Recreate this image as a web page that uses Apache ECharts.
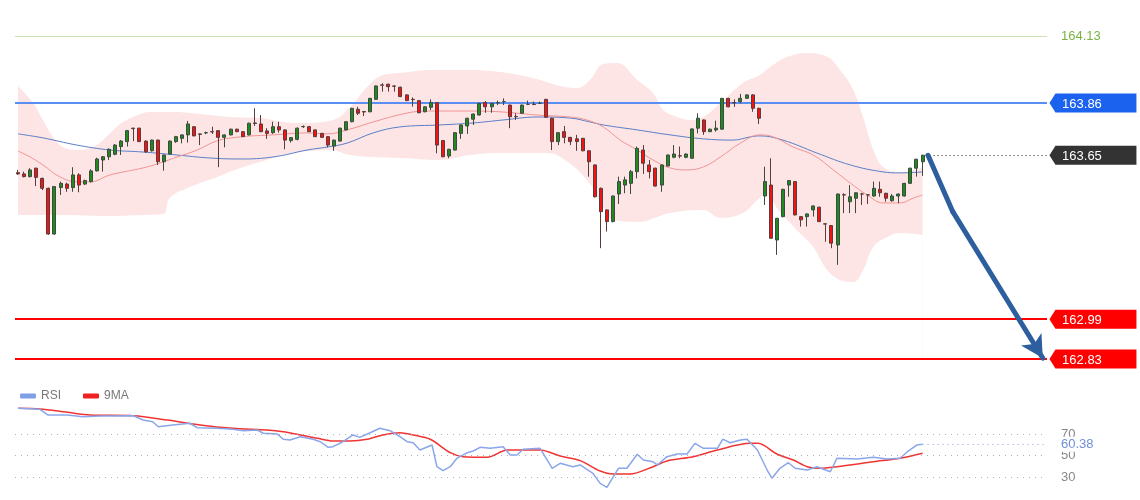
<!DOCTYPE html>
<html>
<head>
<meta charset="utf-8">
<title>Candles</title>
<script src="https://cdn.jsdelivr.net/npm/echarts@6/dist/echarts.min.js"></script>
<style>
  html, body { margin: 0; padding: 0; background: #fff; }
  #main { width: 1140px; height: 500px; }
</style>
</head>
<body>
<div id="main"></div>
<script>
// 蜡烛数据 [open, close, low, high]
var candles = [
  [163.580,163.575,163.571,163.591],[163.575,163.564,163.561,163.584],[163.564,163.591,163.561,163.598],[163.598,163.561,163.526,163.600],
  [163.557,163.517,163.510,163.560],[163.517,163.333,163.330,163.520],[163.333,163.524,163.330,163.526],[163.520,163.537,163.490,163.544],
  [163.534,163.517,163.503,163.540],[163.520,163.571,163.503,163.602],[163.571,163.530,163.501,163.578],[163.534,163.548,163.530,163.552],
  [163.544,163.587,163.540,163.594],[163.587,163.635,163.585,163.640],[163.631,163.644,163.584,163.647],[163.644,163.674,163.631,163.678],
  [163.654,163.691,163.650,163.695],[163.685,163.707,163.651,163.711],[163.705,163.749,163.685,163.752],[163.759,163.757,163.707,163.761],
  [163.759,163.705,163.703,163.761],[163.707,163.664,163.660,163.710],[163.668,163.711,163.665,163.713],[163.711,163.624,163.611,163.713],
  [163.624,163.651,163.588,163.653],[163.655,163.707,163.653,163.710],[163.705,163.725,163.700,163.728],[163.718,163.732,163.698,163.734],
  [163.732,163.776,163.701,163.788],[163.765,163.728,163.726,163.767],[163.736,163.734,163.691,163.738],[163.740,163.741,163.735,163.745],
  [163.745,163.744,163.736,163.765],[163.749,163.722,163.602,163.750],[163.722,163.732,163.682,163.734],[163.732,163.755,163.730,163.757],
  [163.755,163.745,163.743,163.757],[163.745,163.725,163.723,163.747],[163.732,163.779,163.730,163.781],[163.780,163.778,163.768,163.839],
  [163.776,163.745,163.743,163.812],[163.748,163.738,163.716,163.759],[163.741,163.765,163.736,163.785],[163.765,163.752,163.741,163.785],
  [163.752,163.711,163.674,163.754],[163.709,163.721,163.701,163.723],[163.714,163.759,163.710,163.762],[163.765,163.766,163.760,163.770],
  [163.765,163.745,163.743,163.768],[163.752,163.725,163.723,163.754],[163.738,163.722,163.720,163.740],[163.725,163.691,163.682,163.727],
  [163.687,163.711,163.668,163.713],[163.707,163.759,163.705,163.761],[163.752,163.785,163.750,163.787],[163.785,163.839,163.783,163.841],
  [163.835,163.819,163.812,163.845],[163.826,163.824,163.808,163.828],[163.825,163.879,163.823,163.881],[163.875,163.929,163.873,163.931],
  [163.933,163.932,163.906,163.940],[163.936,163.926,163.906,163.938],[163.929,163.928,163.906,163.931],[163.924,163.886,163.884,163.926],
  [163.893,163.870,163.868,163.895],[163.875,163.874,163.846,163.883],[163.870,163.821,163.819,163.872],[163.825,163.845,163.823,163.847],
  [163.843,163.862,163.832,163.875],[163.862,163.691,163.658,163.864],[163.709,163.644,163.642,163.711],[163.647,163.674,163.638,163.676],
  [163.671,163.741,163.669,163.743],[163.738,163.772,163.716,163.774],[163.768,163.799,163.736,163.801],[163.795,163.816,163.772,163.818],
  [163.812,163.859,163.810,163.861],[163.862,163.845,163.821,163.868],[163.845,163.859,163.821,163.861],[163.861,163.862,163.852,163.870],
  [163.866,163.866,163.852,163.879],[163.852,163.805,163.759,163.854],[163.806,163.805,163.792,163.819],[163.819,163.852,163.817,163.854],
  [163.855,163.855,163.852,163.870],[163.855,163.854,163.852,163.866],[163.859,163.859,163.856,163.866],[163.875,163.803,163.800,163.877],
  [163.799,163.705,163.671,163.801],[163.705,163.741,163.691,163.743],[163.745,163.722,163.698,163.768],[163.722,163.705,163.691,163.724],
  [163.716,163.705,163.668,163.732],[163.718,163.668,163.666,163.720],[163.668,163.624,163.564,163.670],[163.611,163.483,163.480,163.613],
  [163.517,163.423,163.276,163.520],[163.430,163.383,163.343,163.432],[163.383,163.486,163.380,163.488],[163.494,163.544,163.454,163.564],
  [163.530,163.551,163.497,163.564],[163.537,163.584,163.494,163.591],[163.584,163.678,163.557,163.685],[163.671,163.618,163.575,163.691],
  [163.611,163.584,163.557,163.631],[163.598,163.526,163.524,163.600],[163.530,163.611,163.503,163.613],[163.607,163.651,163.605,163.653],
  [163.642,163.655,163.638,163.691],[163.648,163.647,163.638,163.685],[163.642,163.655,163.638,163.657],[163.638,163.756,163.636,163.758],
  [163.759,163.799,163.738,163.819],[163.792,163.745,163.732,163.794],[163.745,163.755,163.743,163.757],[163.752,163.759,163.745,163.789],
  [163.755,163.879,163.753,163.881],[163.879,163.845,163.843,163.881],[163.862,163.861,163.845,163.875],[163.866,163.879,163.859,163.897],
  [163.879,163.893,163.877,163.895],[163.893,163.839,163.825,163.895],[163.839,163.799,163.776,163.841],[163.486,163.544,163.450,163.604],
  [163.530,163.316,163.314,163.638],[163.309,163.396,163.249,163.398],[163.403,163.513,163.400,163.515],[163.530,163.548,163.483,163.550],
  [163.544,163.410,163.408,163.546],[163.403,163.390,163.363,163.405],[163.403,163.414,163.363,163.416],[163.430,163.446,163.403,163.448],
  [163.441,163.383,163.381,163.443],[163.374,163.373,163.302,163.376],[163.367,163.296,163.276,163.369],[163.289,163.494,163.209,163.496],
  [163.491,163.490,163.417,163.497],[163.463,163.483,163.417,163.530],[163.477,163.499,163.417,163.501],[163.494,163.494,163.450,163.499],
  [163.491,163.490,163.454,163.493],[163.486,163.517,163.483,163.544],[163.513,163.499,163.483,163.544],[163.497,163.477,163.463,163.499],
  [163.467,163.486,163.463,163.494],[163.486,163.494,163.457,163.496],[163.486,163.537,163.484,163.539],[163.537,163.598,163.535,163.600],
  [163.598,163.634,163.564,163.636],[163.624,163.650,163.567,163.652]
];

// 布林带上下轨 / 均线 [位置, 值]
var upperBand = [[0,163.929],[2.5,163.860],[4.1,163.792],[6.1,163.712],[7.7,163.679],[10.2,163.671],[12.7,163.687],[15.2,163.740],
  [16.8,163.776],[19.3,163.808],[21.8,163.824],[25.9,163.824],[30,163.816],[34.9,163.804],[39.9,163.800],[43.7,163.784],[46.5,163.780],
  [51.9,163.792],[54.7,163.844],[57.5,163.925],[60.1,163.973],[62.9,163.981],[68.4,163.993],[74,163.993],[79.4,163.985],[84.8,163.961],
  [89.3,163.929],[92.1,163.921],[94.2,163.953],[96.4,164.017],[98.7,164.021],[102,163.953],[104.6,163.901],[106.3,163.832],[108.6,163.804],
  [110.7,163.792],[112.9,163.804],[115.7,163.860],[119.4,163.941],[122.2,163.973],[123.9,164.005],[126.7,164.046],[130,164.062],
  [133.3,164.046],[135.4,163.993],[137.6,163.913],[139.2,163.804],[140.9,163.671],[142.5,163.603],[145.3,163.583],[147.5,163.591],[149,163.603]];
var lowerBand = [[0,163.410],[6.9,163.410],[15.2,163.406],[20.1,163.410],[23.9,163.414],[25,163.478],[28.3,163.522],[32.8,163.563],
  [36.6,163.599],[41,163.631],[44.8,163.659],[48.1,163.667],[51.4,163.671],[54.7,163.651],[58.5,163.643],[62.9,163.639],[69.5,163.631],
  [74.5,163.651],[79.4,163.659],[87.2,163.659],[90.1,163.631],[93.7,163.551],[96.4,163.442],[98,163.390],[102,163.382],[107.4,163.418],
  [112.9,163.430],[115.7,163.398],[119.4,163.418],[121.8,163.470],[123.1,163.490],[125.5,163.422],[128.8,163.337],[131,163.281],
  [133.3,163.188],[135.4,163.148],[137.6,163.140],[139.2,163.188],[140.9,163.281],[143.2,163.321],[145.3,163.337],[149,163.329]];
var maFast = [[0,163.667],[2,163.643],[4.1,163.611],[6.9,163.563],[9.7,163.543],[11.9,163.543],[15.2,163.571],[20.6,163.599],
  [23.4,163.619],[26.2,163.643],[29.5,163.671],[32.8,163.708],[36.6,163.724],[42,163.732],[47.6,163.740],[50.9,163.736],[54.2,163.752],
  [58.5,163.784],[64.1,163.820],[67.4,163.828],[75,163.828],[79.9,163.824],[85.5,163.812],[90.9,163.804],[93.7,163.792],[96.4,163.764],
  [99.2,163.711],[102,163.671],[104.6,163.631],[107.4,163.599],[110.2,163.591],[112.9,163.603],[115.7,163.643],[119,163.699],
  [122.2,163.732],[124.4,163.724],[127.7,163.683],[131,163.651],[134.3,163.591],[137.1,163.538],[139.9,163.490],[142.5,163.458],
  [145.3,163.458],[147.5,163.478],[149,163.490]];
var maSlow = [[0,163.736],[4.1,163.720],[9.7,163.691],[15.2,163.671],[20.6,163.663],[26.2,163.651],[31.6,163.639],[36.6,163.635],
  [42,163.643],[47.6,163.671],[50.9,163.683],[54.2,163.699],[58.5,163.740],[62.9,163.764],[69.5,163.772],[75,163.780],[79.9,163.792],
  [85.5,163.804],[90.9,163.800],[94.2,163.784],[96.4,163.772],[102,163.752],[107.4,163.732],[112.9,163.716],[117.8,163.711],
  [120.6,163.724],[122.2,163.728],[126,163.711],[131.6,163.659],[137.1,163.611],[142.5,163.583],[145.3,163.579],[149,163.583]];

// 价位线
var resistance = 164.13;
var pivot = 163.86;
var lastPrice = 163.65;
var support1 = 162.99;
var support2 = 162.83;
// 箭头路径
var arrowPath = [[149.9,163.65],[154,163.422],[168.8,162.834]];

// RSI
var rsi = [[0,93.9],[3.6,93.0],[4.9,87.7],[8.1,87.7],[10.7,86.1],[13.5,86.7],[19,87.0],[20.6,83.0],[22.2,81.4],[23.1,76.8],
  [25.5,78.4],[28.3,80.0],[29.5,75.9],[32.8,75.3],[35.4,74.4],[37.1,73.1],[39.4,73.7],[40.4,70.7],[42.7,70.0],[43.7,65.1],
  [44.8,64.4],[46.5,67.5],[48.6,65.1],[49.8,62.8],[51.1,57.6],[51.9,58.2],[53.5,62.8],[55.2,69.1],[56.3,66.9],[58,71.2],
  [59.6,75.3],[61.3,73.1],[62.9,67.5],[64.1,62.8],[65.1,61.9],[66.2,55.1],[68.2,59.8],[69,39.6],[70,35.9],[71.2,39.6],
  [72.3,47.4],[74,52.6],[75,54.2],[76.1,57.6],[77.8,56.7],[79.9,58.2],[81.1,50.5],[82.2,50.5],[83.2,55.8],[86,56.7],
  [88,38.1],[89.3,42.7],[91.4,39.6],[92.6,41.2],[94.7,33.4],[95.9,24.1],[97,20.4],[98.9,38.1],[100.3,38.1],[102,51.1],
  [103,45.8],[104.6,44.2],[105.3,41.2],[106.9,48.9],[108.6,51.4],[110.2,51.4],[111.5,61.3],[112.9,56.7],[115.2,56.7],
  [116.1,65.3],[117.3,61.9],[119,64.4],[120.1,65.1],[121.8,55.1],[123.4,36.5],[124.2,28.8],[125.5,38.1],[126.9,43.3],
  [128,38.1],[130,36.5],[131.6,39.6],[133.8,34.9],[134.9,47.4],[138.2,46.7],[140.9,48.3],[143.2,46.7],[145.3,47.4],
  [146.5,53.5],[148.1,59.8],[149,60.38]];
var rsiMa = [[0,93.9],[3.6,93.3],[8.1,90.2],[11.9,87.7],[19,87.0],[24.6,83.0],[30,78.4],[35.4,75.3],[41,73.7],[43.7,72.1],
  [46.5,69.1],[49.3,66.0],[51.9,63.5],[54.7,63.5],[57.5,65.1],[60.1,69.1],[62.9,71.2],[65.1,69.1],[67.9,65.1],[71.2,52.6],
  [73.3,48.9],[77.3,48.3],[80.6,55.1],[86,55.1],[89.3,49.5],[92.6,45.2],[95.9,35.6],[98,32.8],[100.8,32.8],[104.6,39.6],
  [106.9,44.9],[111.2,48.9],[115.2,55.1],[120.6,61.3],[121.9,61.3],[125,51.4],[127.7,45.8],[130,39.6],[132.1,38.1],
  [134.9,39.6],[140.9,44.2],[145.3,47.4],[149,52.0]];
var rsiLevels = [70, 50, 30];
var rsiLast = 60.38;

var slots = [];
for (var i = 0; i < 170; i++) { slots.push(i + 1); }

var font = 'Liberation Sans, Arial, sans-serif';
var tagPath = 'path://M0,9.5L6,0H87V19H6Z';

function tag(value, color) {
  return {
    coord: [169, value],
    value: value,
    symbol: tagPath,
    symbolSize: [87, 19],
    symbolOffset: [49, 0],
    itemStyle: { color: color },
    label: {
      show: true,
      position: 'inside',
      offset: [-11, 1],
      color: '#fff',
      fontSize: 13,
      fontFamily: font,
      formatter: value.toFixed(2)
    }
  };
}

var myChart = echarts.init(document.getElementById('main'));
var option = {
  animation: false,
  backgroundColor: '#fff',
  textStyle: { fontFamily: font },
  legend: {
    data: ['RSI', '9MA'],
    left: 15,
    top: 385,
    icon: 'roundRect',
    itemWidth: 16,
    itemHeight: 5,
    itemGap: 22,
    textStyle: { color: '#777', fontSize: 12, fontFamily: font }
  },
  grid: [
    { left: 15, top: 36, width: 1032, height: 323 },
    { left: 15, top: 401.75, width: 1032, height: 86 }
  ],
  xAxis: [
    { type: 'category', gridIndex: 0, data: slots, show: false, boundaryGap: true },
    { type: 'value', gridIndex: 0, min: -0.5, max: 169.5, show: false },
    { type: 'value', gridIndex: 1, min: -0.5, max: 169.5, show: false }
  ],
  yAxis: [
    { type: 'value', gridIndex: 0, min: support2, max: resistance, show: false },
    { type: 'value', gridIndex: 1, min: 20, max: 100, show: false }
  ],
  series: [
    {
      name: 'upper', type: 'line', xAxisIndex: 1, yAxisIndex: 0, z: 1,
      data: upperBand, smooth: 0.4, showSymbol: false, silent: true,
      lineStyle: { width: 0 },
      areaStyle: { color: '#fde5e5', opacity: 1, origin: 'start' }
    },
    {
      name: 'lower', type: 'line', xAxisIndex: 1, yAxisIndex: 0, z: 1,
      data: lowerBand, smooth: 0.4, showSymbol: false, silent: true,
      lineStyle: { width: 0 },
      areaStyle: { color: '#ffffff', opacity: 1, origin: 'start' }
    },
    {
      name: 'levels', type: 'line', xAxisIndex: 1, yAxisIndex: 0, z: 3,
      data: [],
      markLine: {
        silent: true,
        symbol: 'none',
        animation: false,
        data: [
          { yAxis: resistance, lineStyle: { color: '#c9e3b5', width: 1, type: 'solid' },
            label: { show: true, position: 'end', distance: 14, color: '#7cb342', fontSize: 13, fontFamily: font, formatter: resistance.toFixed(2) } },
          { yAxis: pivot, lineStyle: { color: '#5b8ef2', width: 2, type: 'solid' }, label: { show: false } },
          { yAxis: support1, lineStyle: { color: '#ff0000', width: 2, type: 'solid' }, label: { show: false } },
          { yAxis: support2, lineStyle: { color: '#ff0000', width: 2, type: 'solid' }, label: { show: false } },
          [
            { coord: [149.5, lastPrice], lineStyle: { color: '#222', width: 1, type: [1, 3] }, label: { show: false } },
            { coord: [169.5, lastPrice] }
          ]
        ]
      }
    },
    {
      name: 'maSlow', type: 'line', xAxisIndex: 1, yAxisIndex: 0, z: 4,
      data: maSlow, smooth: 0.4, showSymbol: false, silent: true,
      lineStyle: { color: '#5a7fc8', width: 1 }
    },
    {
      name: 'maFast', type: 'line', xAxisIndex: 1, yAxisIndex: 0, z: 4,
      data: maFast, smooth: 0.4, showSymbol: false, silent: true,
      lineStyle: { color: '#f29494', width: 1 }
    },
    {
      name: 'price', type: 'candlestick', xAxisIndex: 0, yAxisIndex: 0, z: 5,
      data: candles,
      barWidth: 3.5,
      itemStyle: {
        color: '#1f8a1f',
        color0: '#f01414',
        borderColor: '#3f4a3f',
        borderColor0: '#5a3a3a',
        borderWidth: 1
      }
    },
    {
      name: 'arrow', type: 'line', xAxisIndex: 1, yAxisIndex: 0, z: 6,
      data: [],
      markLine: {
        silent: true,
        animation: false,
        label: { show: false },
        lineStyle: { color: '#2d5e9e', width: 5, type: 'solid', cap: 'round' },
        data: [
          [ { coord: arrowPath[0], symbol: 'none' }, { coord: arrowPath[1], symbol: 'none' } ],
          [ { coord: arrowPath[1], symbol: 'none' }, { coord: arrowPath[2], symbol: 'arrow', symbolSize: [18, 22] } ]
        ]
      },
      markPoint: {
        silent: true,
        animation: false,
        data: [
          tag(pivot, '#1b62ee'),
          tag(lastPrice, '#333333'),
          tag(support1, '#ff0000'),
          tag(support2, '#ff0000')
        ]
      }
    },
    {
      name: 'rsiLevels', type: 'line', xAxisIndex: 2, yAxisIndex: 1, z: 2,
      data: [],
      markLine: {
        silent: true,
        symbol: 'none',
        animation: false,
        lineStyle: { color: '#aab0c8', width: 1, type: [1, 5] },
        label: { show: true, position: 'end', distance: 14, color: '#888', fontSize: 13, fontFamily: font },
        data: rsiLevels.map(function (v) { return { yAxis: v, label: { formatter: String(v) } }; })
      }
    },
    {
      name: 'RSI', type: 'line', xAxisIndex: 2, yAxisIndex: 1, z: 4,
      data: rsi, showSymbol: false, silent: true,
      color: '#7f9fe6',
      lineStyle: { color: '#8aa6ea', width: 1.5 },
      markLine: {
        silent: true,
        symbol: 'none',
        animation: false,
        lineStyle: { color: '#8aa0d8', width: 1, type: [1, 4] },
        label: {
          show: true, position: 'end', distance: 12, color: '#6f8fdc', fontSize: 13, fontFamily: font,
          backgroundColor: '#fff', padding: [1, 2], formatter: rsiLast.toFixed(2)
        },
        data: [[ { coord: [149, rsiLast] }, { coord: [169.5, rsiLast] } ]]
      }
    },
    {
      name: '9MA', type: 'line', xAxisIndex: 2, yAxisIndex: 1, z: 3,
      data: rsiMa, smooth: 0.3, showSymbol: false, silent: true,
      color: '#f02020',
      lineStyle: { color: '#f03434', width: 1.5 }
    }
  ]
};
myChart.setOption(option);
window.addEventListener('resize', function () {
  myChart.resize();
});
</script>
</body>
</html>
